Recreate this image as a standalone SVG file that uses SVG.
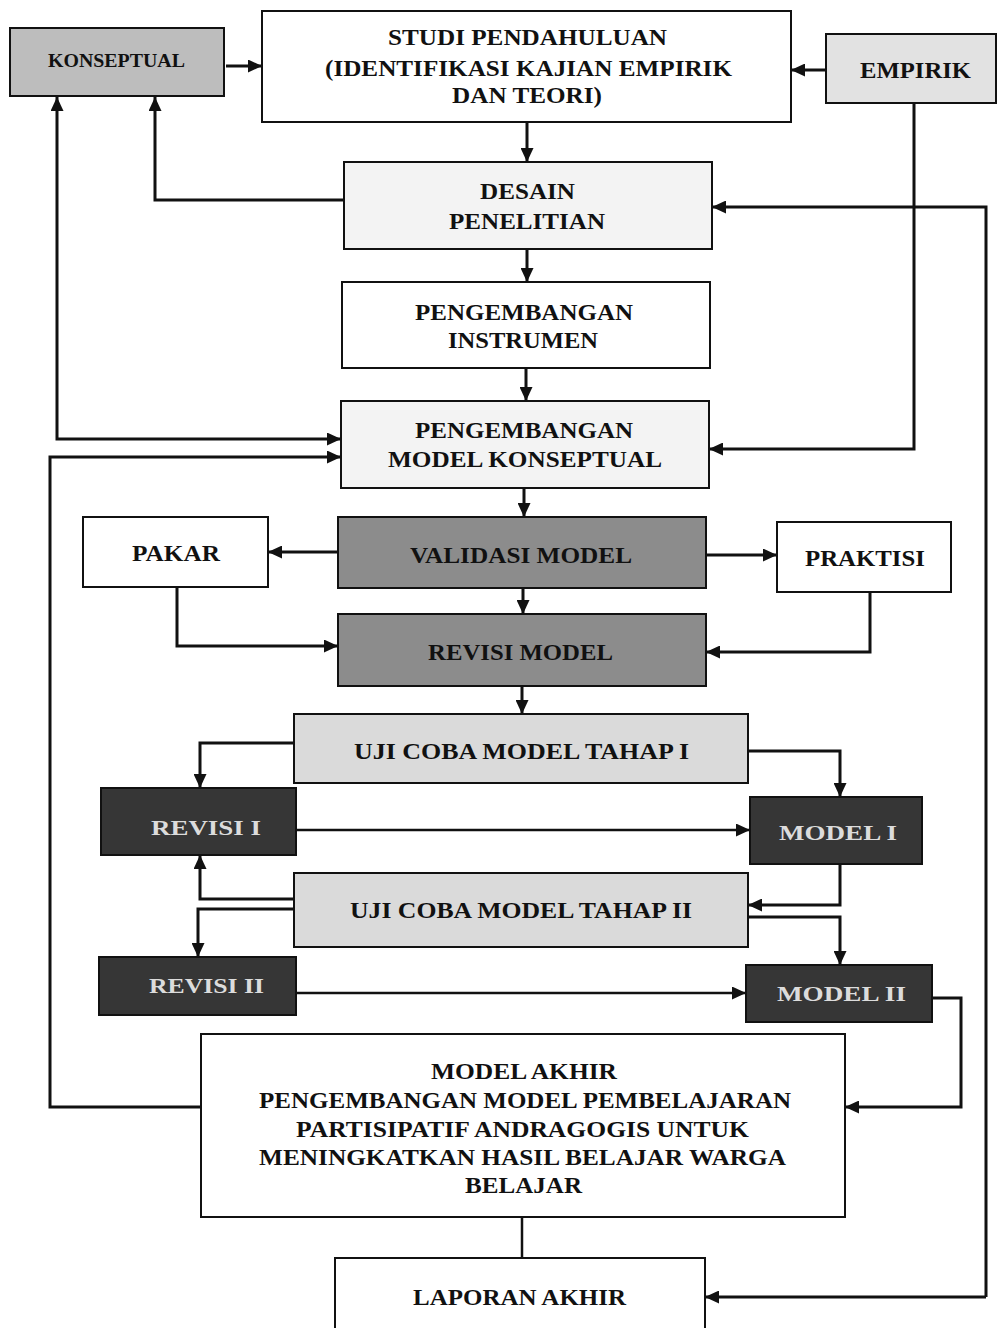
<svg xmlns="http://www.w3.org/2000/svg" width="998" height="1328" viewBox="0 0 998 1328">
<style>
  .box { stroke: #111; stroke-width: 2; }
  .white { fill: #ffffff; }
  .vlight { fill: #f3f3f3; }
  .light { fill: #e2e2e2; }
  .uji { fill: #dadada; }
  .konsep { fill: #bdbdbd; }
  .mid { fill: #8c8c8c; }
  .dark { fill: #363636; }
  .t { font-family: "Liberation Serif", "Times New Roman", serif; font-weight: bold; font-size: 23px; fill: #111; text-anchor: middle; }
  .tl { fill: #dcdcdc; font-size: 21px; }
  .c { fill: none; stroke: #111; stroke-width: 3; }
</style>
<defs>
  <marker id="ah" markerUnits="userSpaceOnUse" markerWidth="15" markerHeight="13" refX="14" refY="6.5" orient="auto-start-reverse">
    <path d="M0,0 L14,6.5 L0,13 z" fill="#111"/>
  </marker>
</defs>

<g id="konseptual">
  <rect class="box konsep" x="10" y="28" width="214" height="68"/>
  <text class="t" x="116.5" y="67" style="font-size:18px" textLength="137" lengthAdjust="spacingAndGlyphs">KONSEPTUAL</text>
</g>
<g id="studi">
  <rect class="box white" x="262" y="11" width="529" height="111"/>
  <text class="t" x="527.5" y="45" textLength="279" lengthAdjust="spacingAndGlyphs">STUDI PENDAHULUAN</text>
  <text class="t" x="528.5" y="76" textLength="407" lengthAdjust="spacingAndGlyphs">(IDENTIFIKASI KAJIAN EMPIRIK</text>
  <text class="t" x="527" y="103" textLength="150" lengthAdjust="spacingAndGlyphs">DAN TEORI)</text>
</g>
<g id="empirik">
  <rect class="box light" x="826" y="34" width="170" height="69"/>
  <text class="t" x="915.5" y="78" textLength="111" lengthAdjust="spacingAndGlyphs">EMPIRIK</text>
</g>
<g id="desain">
  <rect class="box vlight" x="344" y="162" width="368" height="87"/>
  <text class="t" x="527.5" y="199" textLength="95" lengthAdjust="spacingAndGlyphs">DESAIN</text>
  <text class="t" x="527" y="229" textLength="156" lengthAdjust="spacingAndGlyphs">PENELITIAN</text>
</g>
<g id="instrumen">
  <rect class="box white" x="342" y="282" width="368" height="86"/>
  <text class="t" x="524" y="320" textLength="218" lengthAdjust="spacingAndGlyphs">PENGEMBANGAN</text>
  <text class="t" x="523" y="348" textLength="150" lengthAdjust="spacingAndGlyphs">INSTRUMEN</text>
</g>
<g id="model-konseptual">
  <rect class="box vlight" x="341" y="401" width="368" height="87"/>
  <text class="t" x="524" y="438" textLength="218" lengthAdjust="spacingAndGlyphs">PENGEMBANGAN</text>
  <text class="t" x="525" y="467" textLength="274" lengthAdjust="spacingAndGlyphs">MODEL KONSEPTUAL</text>
</g>
<g id="pakar">
  <rect class="box white" x="83" y="517" width="185" height="70"/>
  <text class="t" x="176" y="561" textLength="88" lengthAdjust="spacingAndGlyphs">PAKAR</text>
</g>
<g id="validasi">
  <rect class="box mid" x="338" y="517" width="368" height="71"/>
  <text class="t" x="521" y="563" textLength="222" lengthAdjust="spacingAndGlyphs">VALIDASI MODEL</text>
</g>
<g id="praktisi">
  <rect class="box white" x="777" y="522" width="174" height="70"/>
  <text class="t" x="865" y="566" textLength="120" lengthAdjust="spacingAndGlyphs">PRAKTISI</text>
</g>
<g id="revisi-model">
  <rect class="box mid" x="338" y="614" width="368" height="72"/>
  <text class="t" x="520.5" y="660" textLength="185" lengthAdjust="spacingAndGlyphs">REVISI MODEL</text>
</g>
<g id="uji1">
  <rect class="box uji" x="294" y="714" width="454" height="69"/>
  <text class="t" x="521.5" y="759" textLength="335" lengthAdjust="spacingAndGlyphs">UJI COBA MODEL TAHAP I</text>
</g>
<g id="revisi1">
  <rect class="box dark" x="101" y="788" width="195" height="67"/>
  <text class="t tl" x="206" y="835" textLength="110" lengthAdjust="spacingAndGlyphs">REVISI I</text>
</g>
<g id="model1">
  <rect class="box dark" x="750" y="797" width="172" height="67"/>
  <text class="t tl" x="838" y="840" textLength="118" lengthAdjust="spacingAndGlyphs">MODEL I</text>
</g>
<g id="uji2">
  <rect class="box uji" x="294" y="873" width="454" height="74"/>
  <text class="t" x="521" y="918" textLength="342" lengthAdjust="spacingAndGlyphs">UJI COBA MODEL TAHAP II</text>
</g>
<g id="revisi2">
  <rect class="box dark" x="99" y="957" width="197" height="58"/>
  <text class="t tl" x="206.5" y="993" textLength="115" lengthAdjust="spacingAndGlyphs">REVISI II</text>
</g>
<g id="model2">
  <rect class="box dark" x="746" y="965" width="186" height="57"/>
  <text class="t tl" x="841.5" y="1001" textLength="129" lengthAdjust="spacingAndGlyphs">MODEL II</text>
</g>
<g id="model-akhir">
  <rect class="box white" x="201" y="1034" width="644" height="183"/>
  <text class="t" x="524" y="1079" textLength="186" lengthAdjust="spacingAndGlyphs">MODEL AKHIR</text>
  <text class="t" x="525" y="1108" textLength="532" lengthAdjust="spacingAndGlyphs">PENGEMBANGAN MODEL PEMBELAJARAN</text>
  <text class="t" x="522.5" y="1137" textLength="453" lengthAdjust="spacingAndGlyphs">PARTISIPATIF ANDRAGOGIS UNTUK</text>
  <text class="t" x="522.5" y="1165" textLength="527" lengthAdjust="spacingAndGlyphs">MENINGKATKAN HASIL BELAJAR WARGA</text>
  <text class="t" x="523.5" y="1193" textLength="117" lengthAdjust="spacingAndGlyphs">BELAJAR</text>
</g>
<g id="laporan">
  <rect class="box white" x="335" y="1258" width="370" height="80"/>
  <text class="t" x="519.5" y="1305" textLength="213" lengthAdjust="spacingAndGlyphs">LAPORAN AKHIR</text>
</g>

<g id="connectors">
  <path class="c" d="M226,66 L262,66" marker-end="url(#ah)"/>
  <path class="c" d="M826,70 L791,70" marker-end="url(#ah)"/>
  <path class="c" d="M527,122 L527,162" marker-end="url(#ah)"/>
  <path class="c" d="M527,249 L527,282" marker-end="url(#ah)"/>
  <path class="c" d="M526,368 L526,401" marker-end="url(#ah)"/>
  <path class="c" d="M524,488 L524,517" marker-end="url(#ah)"/>
  <path class="c" d="M523,588 L523,614" marker-end="url(#ah)"/>
  <path class="c" d="M522,686 L522,714" marker-end="url(#ah)"/>
  <path class="c" d="M344,200 L155,200 L155,97" marker-end="url(#ah)"/>
  <path class="c" d="M57,97 L57,439 L341,439" marker-start="url(#ah)" marker-end="url(#ah)"/>
  <path class="c" d="M914,103 L914,449 L709,449" marker-end="url(#ah)"/>
  <path class="c" d="M986,1297 L986,207 L712,207" marker-end="url(#ah)"/>
  <path class="c" d="M338,552 L268,552" marker-end="url(#ah)"/>
  <path class="c" d="M706,555 L777,555" marker-end="url(#ah)"/>
  <path class="c" d="M177,587 L177,646 L338,646" marker-end="url(#ah)"/>
  <path class="c" d="M870,592 L870,652 L706,652" marker-end="url(#ah)"/>
  <path class="c" d="M294,743 L200,743 L200,788" marker-end="url(#ah)"/>
  <path class="c" d="M748,751 L840,751 L840,797" marker-end="url(#ah)"/>
  <path class="c" d="M296,830 L750,830" marker-end="url(#ah)" style="stroke-width:2.5"/>
  <path class="c" d="M840,864 L840,905 L748,905" marker-end="url(#ah)"/>
  <path class="c" d="M294,899 L200,899 L200,855" marker-end="url(#ah)"/>
  <path class="c" d="M294,909 L198,909 L198,957" marker-end="url(#ah)"/>
  <path class="c" d="M748,917 L840,917 L840,965" marker-end="url(#ah)"/>
  <path class="c" d="M296,993 L746,993" marker-end="url(#ah)" style="stroke-width:2.5"/>
  <path class="c" d="M932,998 L961,998 L961,1107 L845,1107" marker-end="url(#ah)"/>
  <path class="c" d="M201,1107 L50,1107 L50,457 L341,457" marker-end="url(#ah)"/>
  <path class="c" d="M522,1217 L522,1258" style="stroke-width:2.5"/>
  <path class="c" d="M986,1297 L705,1297" marker-end="url(#ah)"/>
</g>
</svg>
